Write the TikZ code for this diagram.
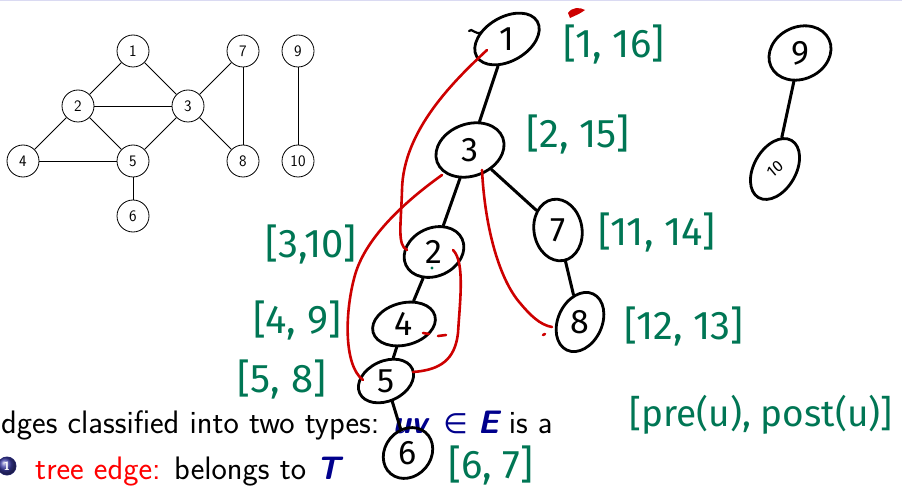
\documentclass[tikz,border=0pt]{standalone}
\usepackage{fontspec}
\newfontfamily\hand{Fira Sans}
\newfontfamily\sym{DejaVu Sans}
\usetikzlibrary{shapes.geometric,calc}
\definecolor{hgreen}{RGB}{0,118,84}
\definecolor{hred}{RGB}{205,0,0}
\definecolor{navy}{RGB}{0,0,140}
\definecolor{topline}{RGB}{218,218,242}
\definecolor{ballc}{RGB}{60,60,165}
\begin{document}
\begin{tikzpicture}[x=1pt,y=-1pt,
 gnode/.style={circle,draw,line width=0.8pt,minimum size=32pt,inner sep=0pt,font=\sffamily\fontsize{16}{16}\selectfont},
 gedge/.style={line width=0.8pt},
 tnode/.style={ellipse,draw,line width=2.8pt,inner sep=0pt,font=\hand\fontsize{34}{34}\selectfont},
 tedge/.style={line width=3pt,line cap=round},
 bedge/.style={hred,line width=2.6pt,line cap=round},
 lab/.style={hgreen,font=\hand\fontsize{40}{40}\selectfont,inner sep=0pt},
 slide/.style={inner sep=0pt,font=\sffamily\fontsize{32.5}{32.5}\selectfont},
]
\useasboundingbox (0,0) rectangle (902,489);
\fill[topline] (0,0) rectangle (902,1.5);

% left graph
\node[gnode] (g1) at (133,51) {1};
\node[gnode] (g7) at (243,51) {7};
\node[gnode] (g9) at (298,51) {9};
\node[gnode] (g2) at (78,106) {2};
\node[gnode] (g3) at (188,106) {3};
\node[gnode] (g4) at (23,161) {4};
\node[gnode] (g5) at (133,161) {5};
\node[gnode] (g8) at (243,161) {8};
\node[gnode] (g10) at (298,161) {10};
\node[gnode] (g6) at (133,216) {6};
\foreach \a/\b in {g1/g2,g1/g3,g2/g3,g2/g4,g2/g5,g3/g5,g3/g7,g3/g8,g7/g8,g4/g5,g5/g6,g9/g10}
  \draw[gedge] (\a) -- (\b);

% slide text
\node[slide,anchor=base west] (l1) at (1,433) {dges classified into two types: \textcolor{navy}{{\bfseries\itshape uv}\hspace{16pt}{\sym\fontsize{28}{28}\selectfont ∈}\hspace{10pt}{\bfseries\itshape E}} is a};
\fill[ballc!70!black] (7,466) circle [radius=9.5pt];
\shade[ball color=ballc] (7,466) circle [radius=8.8pt];
\node[inner sep=0pt,text=white,font=\sffamily\bfseries\fontsize{12}{12}\selectfont] (ball) at (7,466) {1};
\node[slide,anchor=base west] (l2) at (35,479) {\textcolor{red}{tree edge:} belongs to \textcolor{navy}{\bfseries\itshape T}};

% hand-drawn DFS tree
\node[tnode,minimum width=70pt,minimum height=44pt,rotate=30] (t1) at (507,39) {\rotatebox{-30}{1}};
\node[tnode,minimum width=70pt,minimum height=52pt,rotate=20] (t3) at (470,150) {\rotatebox{-20}{3}};
\node[tnode,minimum width=62pt,minimum height=48pt,rotate=100] (t7) at (558,230) {\rotatebox{-100}{7}};
\node[tnode,minimum width=62pt,minimum height=44pt,rotate=65] (t8) at (580,322) {\rotatebox{-65}{8}};
\node[tnode,minimum width=62pt,minimum height=48pt,rotate=25] (t2) at (434,252) {\rotatebox{-25}{2}};
\node[tnode,minimum width=64pt,minimum height=42pt,rotate=15] (t4) at (404,324) {\rotatebox{-15}{4}};
\node[tnode,minimum width=58pt,minimum height=38pt,rotate=25] (t5) at (386,381) {\rotatebox{-25}{5}};
\node[tnode,minimum width=54pt,minimum height=46pt,rotate=50] (t6) at (408,453) {\rotatebox{-50}{6}};
\node[tnode,minimum width=64pt,minimum height=52pt,rotate=25] (t9) at (800,53) {\rotatebox{-25}{9}};
\node[tnode,minimum width=66pt,minimum height=42pt,rotate=60,font=\hand\fontsize{16}{16}\selectfont] (t10) at (775,169) {\rotatebox{-20}{10}};
\foreach \a/\b in {t1/t3,t3/t2,t3/t7,t7/t8,t2/t4,t4/t5,t5/t6,t9/t10}
  \draw[tedge] (\a) -- (\b);

% back edges
\draw[bedge] ($(t1)+(-20,11)$) .. controls (455,80) and (403,130) .. (402,190) .. controls (401,225) and (397,245) .. ($(t2)+(-27,-2)$);
\draw[bedge] ($(t3)+(-28,25)$) .. controls (400,205) and (365,240) .. (355,275) .. controls (345,310) and (343,365) .. ($(t5)+(-23,-1)$);
\draw[bedge] ($(t2)+(19,-2)$) .. controls (465,262) and (460,300) .. (458,333) .. controls (455,360) and (440,370) .. ($(t5)+(27,-9)$);
\draw[bedge] ($(t3)+(12,20)$) .. controls (485,230) and (500,280) .. (520,303) .. controls (530,315) and (540,325) .. ($(t8)+(-28,5)$);
\draw[bedge] ($(t8)+(-37,13)$) -- ($(t8)+(-35,12)$);
\draw[bedge] ($(t4)+(19,9)$) -- ($(t4)+(25,10)$);
\draw[bedge] ($(t4)+(34,12)$) -- ($(t4)+(42,11)$);
\fill[hred] (568,13) .. controls (572,7) and (580,7) .. (585,10) .. controls (580,14) and (574,16) .. (570,18) -- cycle;
\draw[line width=2.2pt,line cap=round] ($(t1)+(-38,-8)$) .. controls ($(t1)+(-35,-12)$) and ($(t1)+(-32,-3)$) .. ($(t1)+(-25,-7)$);
\fill[hgreen] ($(t2)+(-2,16)$) circle (1.6);

% intervals
\node[lab] (a1) at (614,45) {[1, 16]};
\node[lab] (a3) at (578,135) {[2, 15]};
\node[lab] (a7) at (657,232) {[11, 14]};
\node[lab] (a8) at (684,326) {[12, 13]};
\node[lab] (a2) at (311,244) {[3,10]};
\node[lab] (a4) at (297,320) {[4, 9]};
\node[lab] (a5) at (282,379) {[5, 8]};
\node[lab] (a6) at (491,465) {[6, 7]};
\node[lab,font=\hand\fontsize{37}{37}\selectfont] (ap) at (761,415) {[pre(u), post(u)]};
\end{tikzpicture}
\end{document}
